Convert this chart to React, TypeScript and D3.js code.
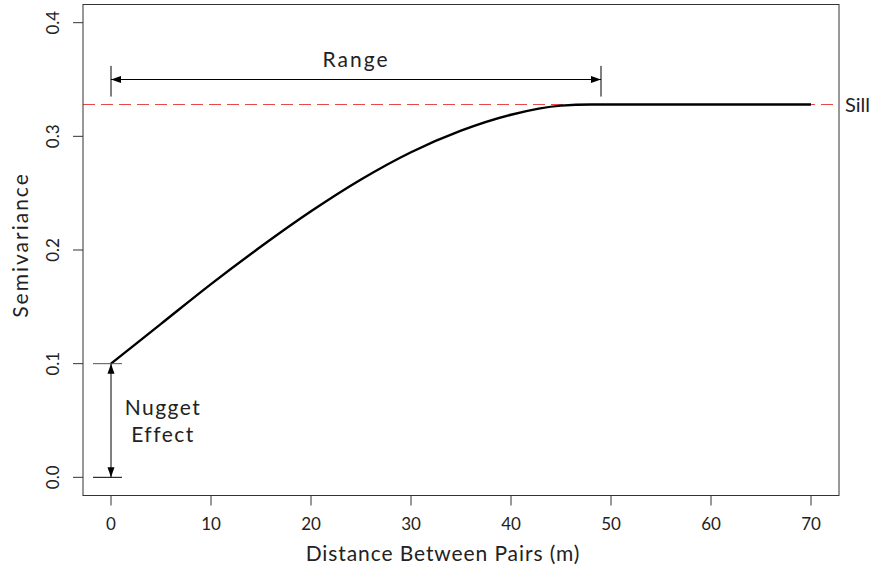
import React from "react";
import * as d3 from "d3";

const distance = [0, 5, 10, 15, 20, 25, 30, 35, 40, 45, 48, 50, 55, 60, 65, 70];
const semivariance = [0.1, 0.135, 0.17, 0.203, 0.234, 0.262, 0.286, 0.305, 0.319, 0.327, 0.328, 0.328, 0.328, 0.328, 0.328, 0.328];
const xTicks = [0, 10, 20, 30, 40, 50, 60, 70];
const yTicks = [0.0, 0.1, 0.2, 0.3, 0.4];
const sill = 0.328;
const nugget = 0.1;
const rangeEnd = 49;
const rangeArrowY = 0.35;
const rangeBar = [0.335, 0.362];

const W = 873, H = 572;
const FONT = "Lato, 'Open Sans', sans-serif";

export default function App() {
  const x = d3.scaleLinear().domain([-2.8, 72.8]).range([83, 839]);
  const y = d3.scaleLinear().domain([-0.016, 0.416]).range([495.5, 4.5]);
  const line = d3
    .line<number>()
    .x((_, i) => x(distance[i]))
    .y((d) => y(d))
    .curve(d3.curveMonotoneX);

  const arrowHead = (px: number, py: number, dir: "l" | "r" | "u" | "d") => {
    const L = 10, w = 3.5;
    let pts: [number, number][] = [];
    if (dir === "l") pts = [[px, py], [px + L, py - w], [px + L, py + w]];
    if (dir === "r") pts = [[px, py], [px - L, py - w], [px - L, py + w]];
    if (dir === "u") pts = [[px, py], [px - w, py + L], [px + w, py + L]];
    if (dir === "d") pts = [[px, py], [px - w, py - L], [px + w, py - L]];
    return <polygon points={pts.map((p) => p.join(",")).join(" ")} fill="#000" />;
  };

  const [x0, x1] = x.range();
  const [yb, yt] = y.range();

  return (
    <svg width={W} height={H} style={{ position: "absolute", left: 0, top: 0, background: "#fff" }} fontFamily={FONT}>
      {/* sill line */}
      <line x1={x0} x2={x1} y1={y(sill)} y2={y(sill)} stroke="#e8474a" strokeWidth={1.2} strokeDasharray="12,6" />
      {/* curve */}
      <path d={line(semivariance) || ""} fill="none" stroke="#000" strokeWidth={2.4} />
      {/* box */}
      <rect x={x0} y={yt} width={x1 - x0} height={yb - yt} fill="none" stroke="#333" strokeWidth={1} />
      {/* x axis */}
      {xTicks.map((t) => (
        <g key={t}>
          <line x1={x(t)} x2={x(t)} y1={yb} y2={yb + 10} stroke="#333" />
          <text x={x(t)} y={530} textAnchor="middle" fontSize={17} fill="#222">{t}</text>
        </g>
      ))}
      <text x={443} y={561} textAnchor="middle" fontSize={21} letterSpacing={0.9} fill="#222">Distance Between Pairs (m)</text>
      {/* y axis */}
      {yTicks.map((t) => (
        <g key={t}>
          <line x1={x0 - 10} x2={x0} y1={y(t)} y2={y(t)} stroke="#333" />
          <text transform={`translate(59,${y(t)}) rotate(-90)`} textAnchor="middle" fontSize={17} fill="#222">{t.toFixed(1)}</text>
        </g>
      ))}
      <text transform={`translate(28,${(yb + yt) / 2 - 5}) rotate(-90)`} textAnchor="middle" fontSize={21} letterSpacing={2} fill="#222">Semivariance</text>
      {/* range annotation */}
      <line x1={x(0)} x2={x(0)} y1={y(rangeBar[0])} y2={y(rangeBar[1])} stroke="#000" strokeWidth={1} />
      <line x1={x(rangeEnd)} x2={x(rangeEnd)} y1={y(rangeBar[0])} y2={y(rangeBar[1])} stroke="#000" strokeWidth={1} />
      <line x1={x(0)} x2={x(rangeEnd)} y1={y(rangeArrowY)} y2={y(rangeArrowY)} stroke="#000" strokeWidth={1} />
      {arrowHead(x(0), y(rangeArrowY), "l")}
      {arrowHead(x(rangeEnd), y(rangeArrowY), "r")}
      <text x={x(rangeEnd / 2)} y={67} textAnchor="middle" fontSize={21} letterSpacing={2} fill="#222">Range</text>
      {/* sill label */}
      <text x={845} y={112} fontSize={20} fill="#222">Sill</text>
      {/* nugget annotation */}
      <line x1={x(-1.8)} x2={x(1.1)} y1={y(nugget)} y2={y(nugget)} stroke="#555" strokeWidth={1} />
      <line x1={x(-1.8)} x2={x(1.1)} y1={y(0)} y2={y(0)} stroke="#000" strokeWidth={1} />
      <line x1={x(0)} x2={x(0)} y1={y(nugget)} y2={y(0)} stroke="#000" strokeWidth={1} />
      {arrowHead(x(0), y(nugget), "u")}
      {arrowHead(x(0), y(0), "d")}
      <text x={163} y={415} textAnchor="middle" fontSize={21} letterSpacing={1.5} fill="#222">Nugget</text>
      <text x={163} y={442} textAnchor="middle" fontSize={21} letterSpacing={1.5} fill="#222">Effect</text>
    </svg>
  );
}
